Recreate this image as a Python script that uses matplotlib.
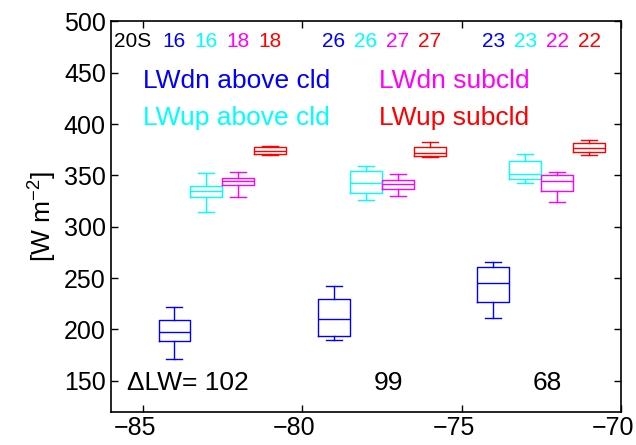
import matplotlib
matplotlib.use("Agg")
import matplotlib.pyplot as plt
import matplotlib.transforms as mtransforms
import numpy as np

plt.rcParams['font.family'] = ['Liberation Sans', 'DejaVu Sans']
plt.rcParams['mathtext.fontset'] = 'custom'
plt.rcParams['mathtext.rm'] = 'Liberation Sans'

# Dados (ordem: LWdn acima, LWup acima, LWdn subcld, LWup subcld)
posicoes = [-84, -83, -82, -81,
            -79, -78, -77, -76,
            -74, -73, -72, -71]
cores = ['blue', 'cyan', 'magenta', 'red'] * 3
whis_baixo = [171, 314, 329, 370, 190, 326, 330, 368, 211, 343, 324, 370]
q1 = [189, 329, 341, 371, 194, 333, 337, 369, 227, 347, 335, 373]
mediana = [198, 335, 345, 374, 210, 343, 342, 372, 245, 351, 345, 377]
q3 = [209, 340, 348, 378, 230, 354, 346, 378, 261, 364, 350, 382]
whis_alto = [222, 352, 353, 379, 242, 359, 351, 383, 266, 371, 353, 385]

contagens = ['16', '16', '18', '18', '26', '26', '27', '27', '23', '23', '22', '22']
delta_lw = ['102', '99', '68']
pos_delta = [-82.3, -77.3, -72.3]

legendas = ['LWdn above cld', 'LWup above cld', 'LWdn subcld', 'LWup subcld']

fig = plt.figure(figsize=(6.36, 4.45), dpi=100)
ax = fig.add_axes([0.174, 0.075, 0.8024, 0.8768])

for i in range(len(posicoes)):
    stats = [{'med': mediana[i], 'q1': q1[i], 'q3': q3[i],
              'whislo': whis_baixo[i], 'whishi': whis_alto[i], 'fliers': []}]
    c = cores[i]
    ax.bxp(stats, positions=[posicoes[i]], widths=1.0, showfliers=False,
           boxprops=dict(color=c, linewidth=1.0),
           medianprops=dict(color=c, linewidth=1.0),
           whiskerprops=dict(color=c, linewidth=1.0),
           capprops=dict(color=c, linewidth=1.0),
           capwidths=0.5, manage_ticks=False)

# Contagens no topo
ax.text(-85.3, 480, '20S', ha='center', va='center', fontsize=15, color='black')
for i in range(len(posicoes)):
    ax.text(posicoes[i], 480, contagens[i], ha='center', va='center',
            fontsize=15, color=cores[i])

# Legendas em texto
ax.text(-85.0, 442, legendas[0], color='blue', fontsize=19, va='center')
ax.text(-85.0, 406, legendas[1], color='cyan', fontsize=19, va='center')
ax.text(-77.6, 442, legendas[2], color='magenta', fontsize=19, va='center')
ax.text(-77.6, 406, legendas[3], color='red', fontsize=19, va='center')

# Diferenças de LW
ax.text(-85.5, 148, '\u0394LW= ' + delta_lw[0], ha='left', va='center', fontsize=19)
for i in range(1, 3):
    ax.text(pos_delta[i], 148, delta_lw[i], ha='center', va='center', fontsize=19)

ax.set_xlim(-86, -70)
ax.set_ylim(120, 500)
ax.set_xticks([-85, -80, -75, -70])
ax.set_xticklabels(['\u221285', '\u221280', '\u221275', '\u221270'])
ax.set_yticks(np.arange(150, 501, 50))
ax.tick_params(direction='in', top=True, right=True, labelsize=18, length=5, width=1)
for s in ax.spines.values():
    s.set_linewidth(1.2)
ax.set_ylabel('[W m$^{-2}$]', fontsize=19)

# rótulos do eixo x deslocados um pouco para a esquerda, como no original
desloc = mtransforms.ScaledTranslation(-8 / 100, 0, fig.dpi_scale_trans)
for rot in ax.get_xticklabels():
    rot.set_transform(rot.get_transform() + desloc)

plt.savefig('out.png', dpi=100)
